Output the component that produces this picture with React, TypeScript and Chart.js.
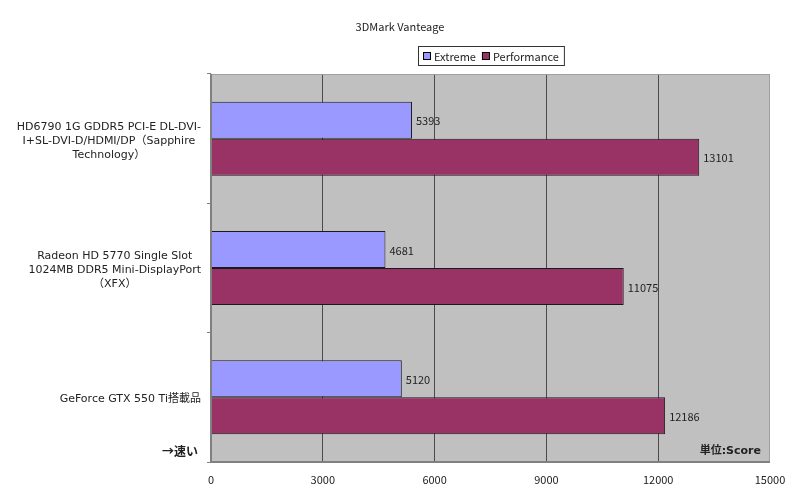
import { useEffect, useRef } from 'react';
import { Chart, registerables } from 'chart.js';

Chart.register(...registerables);

const TITLE = '3DMark Vanteage';
const CATEGORIES: string[][] = [
  ['HD6790 1G GDDR5 PCI-E DL-DVI-', 'I+SL-DVI-D/HDMI/DP（Sapphire', 'Technology）'],
  ['Radeon HD 5770 Single Slot', '1024MB DDR5 Mini-DisplayPort', '（XFX）'],
  ['GeForce GTX 550 Ti搭載品'],
];
const SERIES_NAMES = ['Extreme', 'Performance'];
const EXTREME = [5393, 4681, 5120];
const PERFORMANCE = [13101, 11075, 12186];
const X_TICKS = [0, 3000, 6000, 9000, 12000, 15000];
const FASTER_NOTE = '→速い';
const UNIT_NOTE = '単位:Score';

const FONT = '"Noto Sans CJK JP", "Noto Sans", sans-serif';
const WIDE_FONT = '"DejaVu Sans", "Noto Sans CJK JP", sans-serif';
const TEXT = '#222222';

const decorPlugin = {
  id: 'decor',
  beforeDraw(chart: Chart) {
    const { ctx, chartArea: a } = chart;
    ctx.save();
    ctx.fillStyle = '#ffffff';
    ctx.fillRect(0, 0, chart.width, chart.height);
    ctx.fillStyle = '#c0c0c0';
    ctx.fillRect(a.left, a.top, a.right - a.left, a.bottom - a.top);
    ctx.restore();
  },
  afterDatasetsDraw(chart: Chart) {
    const { ctx } = chart;
    ctx.save();
    ctx.font = `11px ${FONT}`;
    ctx.fillStyle = TEXT;
    ctx.textAlign = 'left';
    ctx.textBaseline = 'middle';
    chart.data.datasets.forEach((ds, di) => {
      const meta = chart.getDatasetMeta(di);
      meta.data.forEach((el: any, i) => {
        ctx.fillText(String(ds.data[i]), el.x + 4, el.y + 1);
      });
    });
    ctx.restore();
  },
  afterDraw(chart: Chart) {
    const { ctx, chartArea: a } = chart;
    const yScale = chart.scales.y;
    ctx.save();

    // plot frame
    ctx.strokeStyle = '#a0a0a0';
    ctx.lineWidth = 1;
    ctx.beginPath();
    ctx.moveTo(a.left, a.top + 0.5);
    ctx.lineTo(a.right - 0.5, a.top + 0.5);
    ctx.lineTo(a.right - 0.5, a.bottom);
    ctx.stroke();
    ctx.strokeStyle = '#808080';
    ctx.lineWidth = 2;
    ctx.beginPath();
    ctx.moveTo(a.left, a.top);
    ctx.lineTo(a.left, a.bottom);
    ctx.lineTo(a.right, a.bottom);
    ctx.stroke();

    // title
    ctx.fillStyle = TEXT;
    ctx.font = `11px ${FONT}`;
    ctx.textAlign = 'center';
    ctx.textBaseline = 'middle';
    ctx.fillText(TITLE, chart.width / 2, 27);

    // category labels: block right-aligned, lines centred in block
    ctx.font = `11px ${WIDE_FONT}`;
    CATEGORIES.forEach((lines, i) => {
      const cy = yScale.getPixelForValue(i) + 2;
      const blockW = Math.max(...lines.map((l) => ctx.measureText(l).width));
      const cx = 201 - blockW / 2;
      const lh = 14;
      const y0 = cy - ((lines.length - 1) * lh) / 2;
      lines.forEach((l, k) => ctx.fillText(l, cx, y0 + k * lh));
    });

    // notes
    ctx.font = `bold 12px ${FONT}`;
    ctx.textAlign = 'right';
    ctx.fillText(FASTER_NOTE, 198, 451);
    ctx.font = `bold 11px ${WIDE_FONT}`;
    ctx.fillText(UNIT_NOTE, 761, 451);

    // legend
    ctx.font = `11px ${FONT}`;
    const items = chart.data.datasets.map((ds) => ({
      label: String(ds.label),
      color: String(ds.backgroundColor),
      w: ctx.measureText(String(ds.label)).width,
    }));
    const pad = 5;
    const sw = 8;
    const gap = 3;
    const itemGap = 6;
    const totalW =
      pad * 2 + items.reduce((s, it) => s + sw + gap + it.w, 0) + itemGap * (items.length - 1);
    const lx = Math.round((a.left + a.right) / 2 - totalW / 2);
    const ly = 46;
    const lh = 19;
    ctx.fillStyle = '#ffffff';
    ctx.fillRect(lx, ly, totalW, lh);
    ctx.strokeStyle = '#333333';
    ctx.lineWidth = 1;
    ctx.strokeRect(lx + 0.5, ly + 0.5, totalW, lh);
    let x = lx + pad;
    ctx.textAlign = 'left';
    items.forEach((it) => {
      ctx.fillStyle = it.color;
      ctx.fillRect(x, ly + 6, sw, sw);
      ctx.strokeStyle = '#000000';
      ctx.strokeRect(x + 0.5, ly + 6.5, sw - 1, sw - 1);
      ctx.fillStyle = TEXT;
      ctx.fillText(it.label, x + sw + gap, ly + lh / 2 + 1);
      x += sw + gap + it.w + itemGap;
    });

    ctx.restore();
  },
};

export default function App() {
  const canvasRef = useRef<HTMLCanvasElement | null>(null);

  useEffect(() => {
    document.body.style.margin = '0';
    const canvas = canvasRef.current;
    if (!canvas) return;
    const chart = new Chart(canvas, {
      type: 'bar',
      data: {
        labels: CATEGORIES,
        datasets: [
          {
            label: SERIES_NAMES[0],
            data: EXTREME,
            backgroundColor: '#9999ff',
            borderColor: '#1a1a1a',
            borderWidth: 1,
            categoryPercentage: 0.572,
            barPercentage: 1,
          },
          {
            label: SERIES_NAMES[1],
            data: PERFORMANCE,
            backgroundColor: '#993366',
            borderColor: '#1a1a1a',
            borderWidth: 1,
            categoryPercentage: 0.572,
            barPercentage: 1,
          },
        ],
      },
      plugins: [decorPlugin],
      options: {
        indexAxis: 'y',
        animation: false,
        responsive: true,
        maintainAspectRatio: false,
        layout: { padding: { top: 74, right: 30, left: 0, bottom: 0 } },
        plugins: {
          legend: { display: false },
          title: { display: false },
          tooltip: { enabled: false },
        },
        scales: {
          x: {
            type: 'linear',
            min: 0,
            max: 15000,
            afterBuildTicks: (scale: any) => {
              scale.ticks = X_TICKS.map((v) => ({ value: v }));
            },
            afterFit: (scale: any) => {
              scale.height = 38;
            },
            ticks: {
              color: TEXT,
              font: { family: FONT, size: 11 },
              padding: 11,
              maxRotation: 0,
              callback: (v: any) => String(v),
            },
            grid: {
              drawTicks: false,
              color: (c: any) =>
                c.tick && c.tick.value > 0 && c.tick.value < 15000 ? '#4a4a4a' : 'rgba(0,0,0,0)',
            },
            border: { display: false },
          },
          y: {
            type: 'category',
            afterFit: (scale: any) => {
              scale.width = 211;
            },
            ticks: { display: false },
            grid: {
              offset: true,
              drawOnChartArea: false,
              drawTicks: true,
              tickLength: 4,
              color: '#808080',
            },
            border: { display: false },
          },
        },
      },
    });
    return () => chart.destroy();
  }, []);

  return (
    <div style={{ width: 800, height: 500, position: 'relative' }}>
      <canvas ref={canvasRef} />
    </div>
  );
}
